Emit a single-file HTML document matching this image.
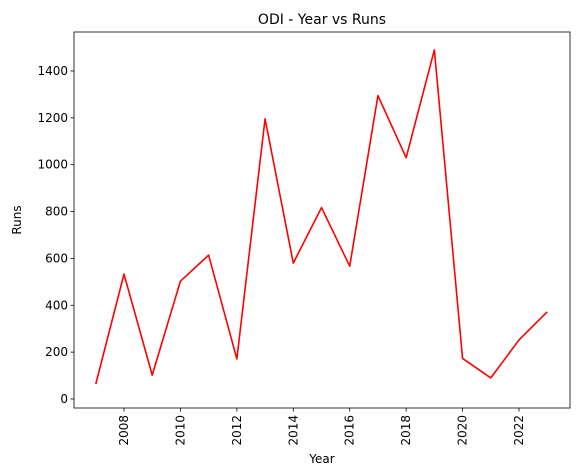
<!DOCTYPE html>
<html><head><meta charset="utf-8"><style>
body{margin:0;background:#fff;}
svg{display:block;font-family:"DejaVu Sans","Liberation Sans",sans-serif;}
</style></head><body>
<svg id="chart" width="580" height="476" viewBox="0 0 580 476" xmlns="http://www.w3.org/2000/svg"></svg>
<script>
const years = [2007,2008,2009,2010,2011,2012,2013,2014,2015,2016,2017,2018,2019,2020,2021,2022,2023];
const runs = [64,533,102,503,614,171,1196,580,817,567,1295,1030,1490,173,90,252,372];
const xTicks = [2008,2010,2012,2014,2016,2018,2020,2022];
const yTicks = [0,200,400,600,800,1000,1200,1400];

const L=74,R=570,T=32,B=408;
const NS="http://www.w3.org/2000/svg";
const svg=document.getElementById('chart');
const xS=v=>124+(v-2008)*(519-124)/14;
const yS=v=>399-v*(399-71)/1400;
function el(t,a,txt){const e=document.createElementNS(NS,t);for(const k in a)e.setAttribute(k,a[k]);if(txt!==undefined)e.textContent=txt;svg.appendChild(e);return e;}

const frame=el('rect',{x:L,y:T,width:R-L,height:B-T,fill:'none',stroke:'#000','stroke-width':0.8});



xTicks.forEach(v=>{
  const x=xS(v);
  const t=el('line',{x1:x,x2:x,y1:B,y2:B+3.5,stroke:'#000','stroke-width':0.8});
  
  
  const lb=el('text',{x:x+4,y:B+7,'font-size':12,'text-anchor':'end',transform:`rotate(-90 ${x+4} ${B+7})`},String(v));
  
  
});
yTicks.forEach(v=>{
  const y=yS(v);
  const t=el('line',{x1:L-3.5,x2:L,y1:y,y2:y,stroke:'#000','stroke-width':0.8});
  
  
  const lb=el('text',{x:L-6,y:y+4,'font-size':12,'text-anchor':'end'},String(v));
  
  
});

const line=el('polyline',{points:years.map((y,i)=>xS(y)+','+yS(runs[i])).join(' '),fill:'none',stroke:'#ff0000','stroke-width':1.6,'stroke-linejoin':'round'});



const title=el('text',{x:(L+R)/2,y:24,'font-size':14,'text-anchor':'middle'},'ODI - Year vs Runs');


const xt=el('text',{x:(L+R)/2,y:463,'font-size':12,'text-anchor':'middle'},'Year');


const yt=el('text',{x:21,y:(T+B)/2,'font-size':12,'text-anchor':'middle',transform:`rotate(-90 21 ${(T+B)/2})`},'Runs');


</script>
</body></html>
